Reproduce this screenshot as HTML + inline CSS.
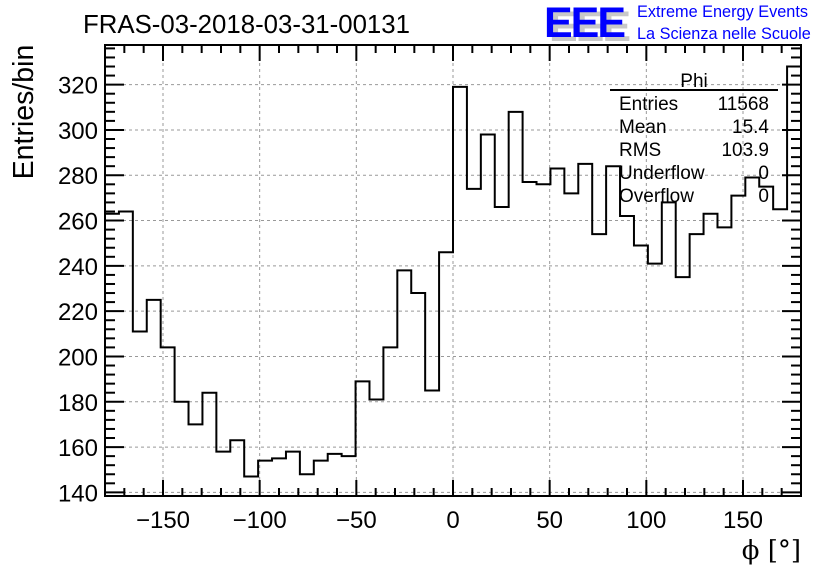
<!DOCTYPE html>
<html><head><meta charset="utf-8"><style>
html,body{margin:0;padding:0;background:#fff;}
svg{display:block;font-family:"Liberation Sans",sans-serif;}
</style></head><body>
<svg id="chart" width="836" height="572" viewBox="0 0 836 572" xmlns="http://www.w3.org/2000/svg">
<rect x="0" y="0" width="836" height="572" fill="#fff"/>
<g id="grid"></g>
<g id="axes"></g>
<path id="hist" fill="none" stroke="#000" stroke-width="2"/>
<rect x="105" y="45" width="696" height="451" fill="none" stroke="#000" stroke-width="2"/>
<text x="83" y="33" font-size="25.8">FRAS-03-2018-03-31-00131</text>
<text transform="translate(33,112) rotate(-90)" text-anchor="middle" font-size="28.5">Entries/bin</text>
<text x="801" y="559" text-anchor="end" font-size="26" font-family="DejaVu Serif, serif">ϕ [°]</text>
<g>
<text x="549" y="41" font-size="43" font-weight="bold" fill="#c8c8c8" letter-spacing="-2">EEE</text>
<text x="544" y="37" font-size="43" font-weight="bold" fill="#0000ff" letter-spacing="-2">EEE</text>
<text x="637" y="17" font-size="16.3" fill="#0000ff">Extreme Energy Events</text>
<text x="637" y="39" font-size="16.3" fill="#0000ff">La Scienza nelle Scuole</text>
</g>
<g font-size="19">
<text x="694" y="87" text-anchor="middle">Phi</text>
<line x1="610" y1="90" x2="778" y2="90" stroke="#000" stroke-width="2"/>
<text x="619" y="110">Entries</text><text x="769" y="110" text-anchor="end">11568</text>
<text x="619" y="133">Mean</text><text x="769" y="133" text-anchor="end">15.4</text>
<text x="619" y="156">RMS</text><text x="769" y="156" text-anchor="end">103.9</text>
<text x="619" y="179">Underflow</text><text x="769" y="179" text-anchor="end">0</text>
<text x="619" y="202">Overflow</text><text x="769" y="202" text-anchor="end">0</text>
</g>
</svg>
<script>
const binEdgesStart = -180;
const binWidth = 7.2;
const counts = [263,264,211,225,204,180,170,184,158,163,147,154,155,158,148,154,157,156,189,181,204,238,228,185,246,319,274,298,266,308,277,276,283,272,285,254,284,262,249,241,268,235,254,263,257,271,279,275,265,328];
const xTicks = [-150,-100,-50,0,50,100,150];
const xTickLabels = ["\u2212150","\u2212100","\u221250","0","50","100","150"];
const yTicks = [140,160,180,200,220,240,260,280,300,320];
const yTickLabels = ["140","160","180","200","220","240","260","280","300","320"];

const X0=105, X1=801, Y0=496, Y1=45;
const xMin=-180, xMax=180, yMin=138.4, yMax=337.5;
function sx(v){return X0+(v-xMin)/(xMax-xMin)*(X1-X0);}
function sy(v){return Y0-(v-yMin)/(yMax-yMin)*(Y0-Y1);}
const NS="http://www.w3.org/2000/svg";
const grid=document.getElementById('grid'), axes=document.getElementById('axes');
function mk(tag,attrs,parent){const e=document.createElementNS(NS,tag);for(const k in attrs)e.setAttribute(k,attrs[k]);parent.appendChild(e);return e;}

xTicks.forEach(v=>{const l=mk('line',{x1:sx(v),x2:sx(v),y1:Y1,y2:Y0,stroke:'#999','stroke-width':1,'stroke-dasharray':'3,3'},grid);

});
yTicks.forEach(v=>{const l=mk('line',{x1:X0,x2:X1,y1:sy(v),y2:sy(v),stroke:'#999','stroke-width':1,'stroke-dasharray':'3,3'},grid);

});

for(let v=-180; v<=180; v+=10){
  const major = xTicks.includes(v);
  const len = major?16:8;
  mk('line',{x1:sx(v),x2:sx(v),y1:Y0,y2:Y0-len,stroke:'#000','stroke-width':2},axes);
  mk('line',{x1:sx(v),x2:sx(v),y1:Y1,y2:Y1+len,stroke:'#000','stroke-width':2},axes);
}
xTicks.forEach((v,i)=>{const t=mk('text',{x:sx(v),y:528,'text-anchor':'middle','font-size':24},axes);t.textContent=xTickLabels[i];

});
for(let v=140; v<=336; v+=4){
  const major = (v%20===0);
  const len = major?19:10;
  mk('line',{x1:X0,x2:X0+len,y1:sy(v),y2:sy(v),stroke:'#000','stroke-width':2},axes);
  mk('line',{x1:X1,x2:X1-len,y1:sy(v),y2:sy(v),stroke:'#000','stroke-width':2},axes);
}
yTicks.forEach((v,i)=>{const t=mk('text',{x:98,y:sy(v)+9,'text-anchor':'end','font-size':24},axes);t.textContent=yTickLabels[i];

});

let d='';
counts.forEach((c,i)=>{
  const xa=sx(binEdgesStart+i*binWidth), xb=sx(binEdgesStart+(i+1)*binWidth), y=sy(c);
  d += (i===0?`M${xa},${y}`:`L${xa},${y}`) + `L${xb},${y}`;
});
document.getElementById('hist').setAttribute('d',d);
</script>
</body></html>
